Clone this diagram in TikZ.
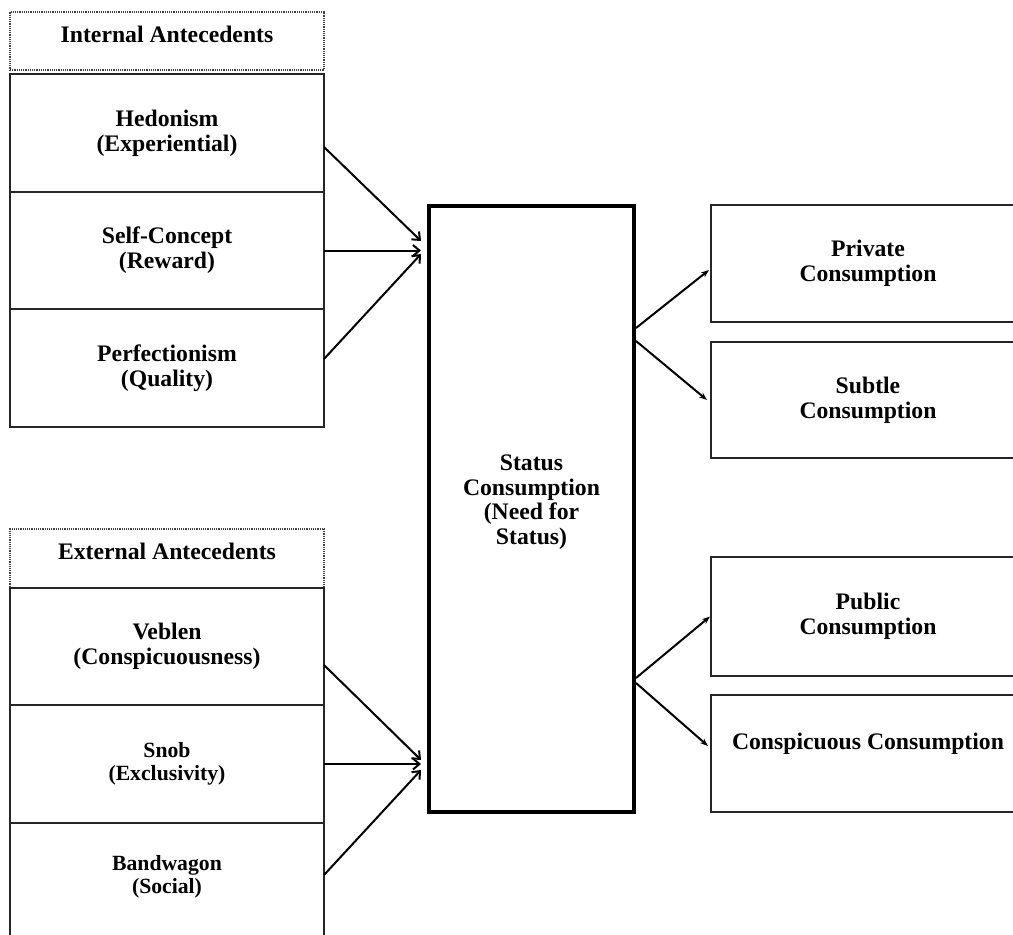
\documentclass[tikz,border=0pt]{standalone}
\usepackage{fontspec}
\setmainfont{Liberation Serif}
\usetikzlibrary{arrows.meta}
\begin{document}
\begin{tikzpicture}[x=1pt,y=-1pt,
  box/.style={draw=black!85, line width=1.9pt, inner sep=0pt, outer sep=0pt, align=center,
    font=\fontsize{23.7}{25}\selectfont\bfseries, minimum width=314pt},
  smallbox/.style={box, font=\fontsize{21.7}{23}\selectfont\bfseries},
  txt/.style={inner sep=0pt, align=center, font=\fontsize{21.7}{23}\selectfont\bfseries},
  hdr/.style={draw=black!75, line width=1.3pt, dash pattern=on 1.2pt off 1pt, inner sep=0pt, outer sep=0pt,
    align=center, font=\fontsize{23.7}{25}\selectfont\bfseries, minimum width=314pt,
    text height=17pt, text depth=15pt},
  statbox/.style={draw=black, line width=4pt, inner sep=0pt, outer sep=0pt, align=center,
    font=\fontsize{23.7}{24.5}\selectfont\bfseries, minimum width=205pt, minimum height=606pt},
  arrL/.style={line width=2pt, -{Straight Barb[length=6.5pt,width=11pt,line width=2pt]}},
  arrR/.style={line width=2pt, -{Stealth[length=8pt,width=6pt]}}
]
\useasboundingbox (0,0) rectangle (1013,935);
\clip (0,0) rectangle (1013,935);

% internal antecedents
\node[hdr, minimum height=58pt] (ih) at (167,41) {Internal Antecedents};
\node[box, minimum height=118pt] (hed) at (167,133) {Hedonism\\(Experiential)};
\node[box, minimum height=117pt] (self) at (167,250.5) {Self-Concept\\(Reward)};
\node[box, minimum height=118pt] (perf) at (167,368) {Perfectionism\\(Quality)};

% external antecedents
\node[hdr, minimum height=59pt] (eh) at (167,558.5) {External Antecedents};
\node[box, minimum height=117pt] (veb) at (167,646.5) {Veblen\\(Conspicuousness)};
\node[smallbox, minimum height=118pt] (snob) at (167,764) {Snob\\(Exclusivity)};
\node[box, minimum height=118pt] (band) at (167,882) {};
\node[txt] (bandt) at (167,877) {Bandwagon\\(Social)};

% central
\node[statbox] (stat) at (531.5,508.5) {};
\node[inner sep=0pt, align=center, font=\fontsize{23.7}{24.5}\selectfont\bfseries] (statt) at (531.5,502) {Status\\Consumption\\(Need for\\Status)};

% outcomes
\node[box, minimum height=117pt] (priv) at (868,263.5) {Private\\Consumption};
\node[box, minimum height=116pt] (subt) at (868,400) {Subtle\\Consumption};
\node[box, minimum height=119pt] (pub) at (868,616.5) {Public\\Consumption};
\node[box, minimum height=117pt] (consp) at (868,753.5) {Conspicuous Consumption\\\mbox{}};

% arrow targets / sources
\coordinate (iin) at (421,249);
\coordinate (ein) at (421,765);
\coordinate (o1) at (636,328);
\coordinate (o2) at (636,341);
\coordinate (o3) at (636,678);
\coordinate (o4) at (636,683);

\draw[arrL] ([yshift=-14pt]hed.east) -- ([yshift=8pt]iin);
\draw[arrL] (self.east) -- (iin |- self.east);
\draw[arrL] ([yshift=9pt]perf.east) -- ([yshift=-5pt]iin);

\draw[arrL] ([yshift=-18.5pt]veb.east) -- ([yshift=5pt]ein);
\draw[arrL] (snob.east) -- (ein |- snob.east);
\draw[arrL] ([yshift=7pt]band.east) -- ([yshift=-5pt]ein);

\draw[arrR] (o1) -- ([xshift=-2pt,yshift=-6.5pt]priv.west);
\draw[arrR] (o2) -- ([xshift=-4pt]subt.west);
\draw[arrR] (o3) -- ([xshift=-1pt]pub.west);
\draw[arrR] (o4) -- ([xshift=-3pt,yshift=7.5pt]consp.west);
\end{tikzpicture}
\end{document}
